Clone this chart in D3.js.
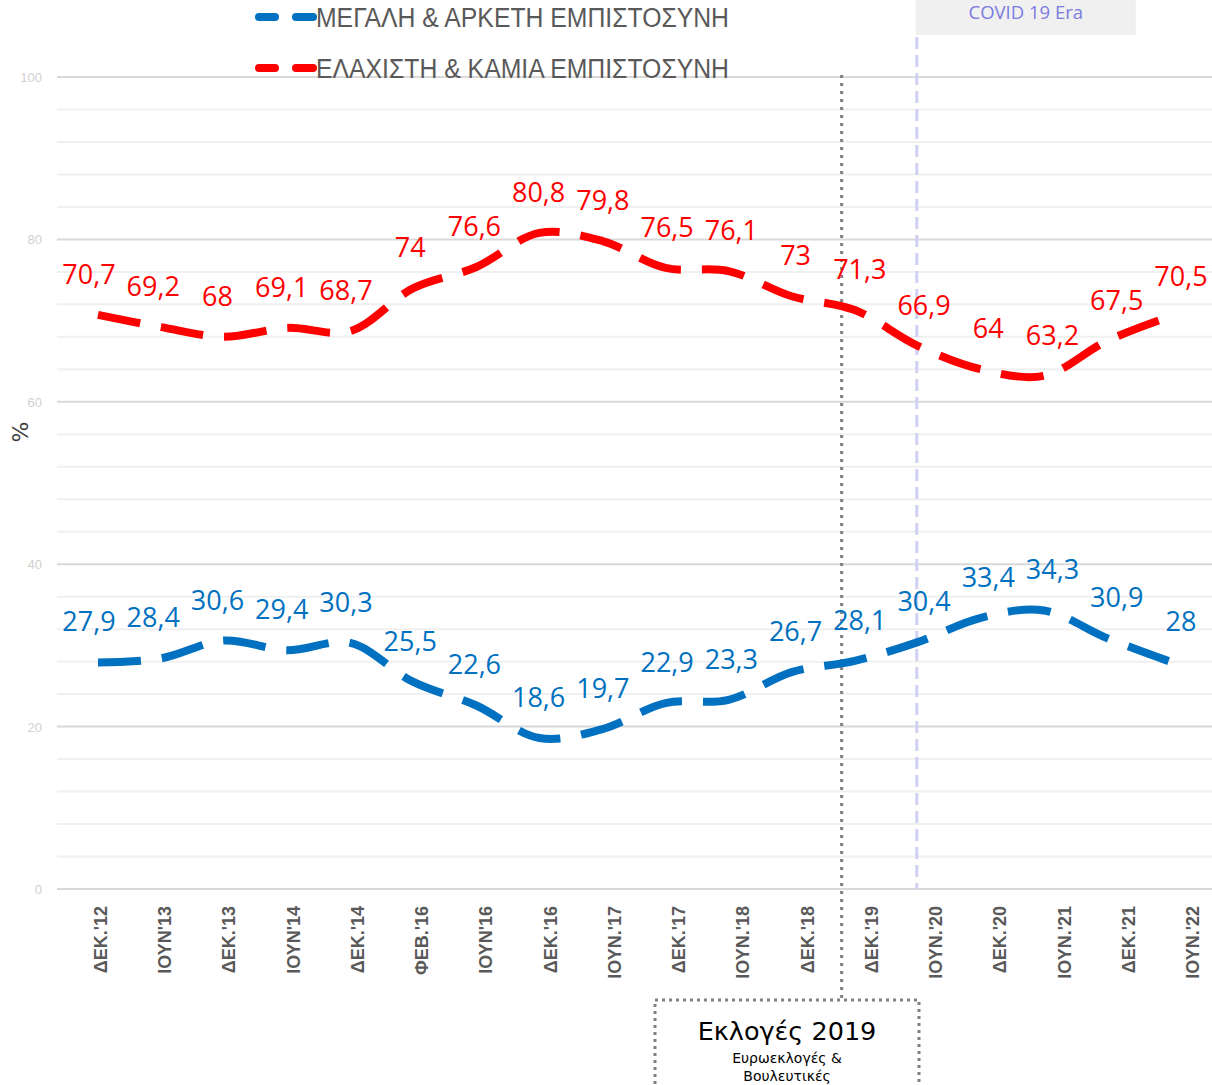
<!DOCTYPE html>
<html>
<head>
<meta charset="utf-8">
<script src="https://cdn.jsdelivr.net/npm/d3@7"></script>
<style>
  body { margin: 0; background: #fff; }
  svg { display: block; }
</style>
</head>
<body>
<div id="chart"></div>
<script>
// Categories (survey waves)
const periods = ["ΔΕΚ.'12", "ΙΟΥΝ'13", "ΔΕΚ.'13", "ΙΟΥΝ'14", "ΔΕΚ.'14", "ΦΕΒ.'16", "ΙΟΥΝ'16", "ΔΕΚ.'16",
  "ΙΟΥΝ.'17", "ΔΕΚ.'17", "ΙΟΥΝ.'18", "ΔΕΚ.'18", "ΔΕΚ.'19", "ΙΟΥΝ.'20", "ΔΕΚ.'20", "ΙΟΥΝ.'21", "ΔΕΚ.'21", "ΙΟΥΝ.'22"];

const highTrust = [27.9, 28.4, 30.6, 29.4, 30.3, 25.5, 22.6, 18.6, 19.7, 22.9, 23.3, 26.7, 28.1, 30.4, 33.4, 34.3, 30.9, 28];
const lowTrust  = [70.7, 69.2, 68, 69.1, 68.7, 74, 76.6, 80.8, 79.8, 76.5, 76.1, 73, 71.3, 66.9, 64, 63.2, 67.5, 70.5];

const yTicks = [0, 20, 40, 60, 80, 100];
const seriesNames = ["ΜΕΓΑΛΗ & ΑΡΚΕΤΗ ΕΜΠΙΣΤΟΣΥΝΗ", "ΕΛΑΧΙΣΤΗ & ΚΑΜΙΑ ΕΜΠΙΣΤΟΣΥΝΗ"];

const W = 1212, H = 1085;
const BLUE = "#0070c0", RED = "#ff0000";

const svg = d3.select("#chart").append("svg").attr("width", W).attr("height", H);

const y = d3.scaleLinear().domain([0, 100]).range([889, 77]);
const xLine = d3.scalePoint().domain(periods).range([98, 1170]);
const xLab = d3.scalePoint().domain(periods).range([89, 1181]);
const xAxis = d3.scalePoint().domain(periods).range([101, 1193]);

// Gridlines: minor every 4, major every 20
const minor = d3.range(0, 101, 4).filter(v => v % 20 !== 0);
svg.append("g").selectAll("line").data(minor).join("line")
  .attr("x1", 57).attr("x2", W).attr("y1", d => y(d)).attr("y2", d => y(d))
  .attr("stroke", "#f0f0f0").attr("stroke-width", 2);
svg.append("g").selectAll("line").data(yTicks).join("line")
  .attr("x1", 57).attr("x2", W).attr("y1", d => y(d)).attr("y2", d => y(d))
  .attr("stroke", "#d9d9d9").attr("stroke-width", 2);

// Y tick labels
svg.append("g").selectAll("text").data(yTicks).join("text")
  .attr("x", 42).attr("y", d => y(d) + 5)
  .attr("text-anchor", "end").attr("font-family", "Liberation Sans, Arial")
  .attr("font-size", 13).attr("fill", "#d0d0d0")
  .text(d => d);

// % label
svg.append("text")
  .attr("transform", "translate(28,432) rotate(-90)")
  .attr("text-anchor", "middle").attr("font-family", "DejaVu Sans")
  .attr("font-size", 22).attr("fill", "#404040").text("%");

// X axis labels (rotated)
svg.append("g").selectAll("text").data(periods).join("text")
  .attr("transform", d => `translate(${xAxis(d) + 6},906) rotate(-90)`)
  .attr("text-anchor", "end").attr("font-family", "Liberation Sans, Arial")
  .attr("font-weight", "bold").attr("font-size", 18).attr("fill", "#595959")
  .text(d => d);

// Marker positions between categories
const step = xAxis.step();
const xElection = xAxis("ΔΕΚ.'18") + 0.53 * step;
const xCovid = xAxis("ΔΕΚ.'19") + 0.7 * step;

// COVID box
svg.append("rect").attr("x", xCovid - 1).attr("y", 0).attr("width", 220).attr("height", 35).attr("fill", "#f0f0f0");
svg.append("text").attr("x", xCovid + 109).attr("y", 19)
  .attr("text-anchor", "middle").attr("font-family", "Open Sans")
  .attr("font-size", 18.5).attr("fill", "#7b7be0").text("COVID 19 Era");
svg.append("line").attr("x1", xCovid).attr("x2", xCovid).attr("y1", 37).attr("y2", 889)
  .attr("stroke", "#d0d0f5").attr("stroke-width", 3).attr("stroke-dasharray", "12,6");

// Election line and box
svg.append("line").attr("x1", xElection).attr("x2", xElection).attr("y1", 75).attr("y2", 1000)
  .attr("stroke", "#808080").attr("stroke-width", 3).attr("stroke-dasharray", "3,5");
svg.append("rect").attr("x", 655).attr("y", 1000).attr("width", 264).attr("height", 100)
  .attr("fill", "none").attr("stroke", "#808080").attr("stroke-width", 3).attr("stroke-dasharray", "3,4");
svg.append("text").attr("x", 787).attr("y", 1040).attr("text-anchor", "middle")
  .attr("font-family", "DejaVu Sans").attr("font-size", 25.5).attr("fill", "#000").text("Εκλογές 2019");
svg.append("text").attr("x", 787).attr("y", 1063).attr("text-anchor", "middle")
  .attr("font-family", "DejaVu Sans").attr("font-size", 14).attr("fill", "#000").text("Ευρωεκλογές &");
svg.append("text").attr("x", 787).attr("y", 1081).attr("text-anchor", "middle")
  .attr("font-family", "DejaVu Sans").attr("font-size", 14).attr("fill", "#000").text("Βουλευτικές");

// Series lines
const series = [
  { name: seriesNames[0], values: highTrust, color: BLUE },
  { name: seriesNames[1], values: lowTrust, color: RED },
];

const line = d3.line()
  .x((d, i) => xLine(periods[i]))
  .y(d => y(d))
  .curve(d3.curveCatmullRom.alpha(0.5));

series.forEach(s => {
  svg.append("path").datum(s.values)
    .attr("d", line).attr("fill", "none")
    .attr("stroke", s.color).attr("stroke-width", 8)
    .attr("stroke-dasharray", "43,21");

  svg.append("g").selectAll("text").data(s.values).join("text")
    .attr("x", (d, i) => xLab(periods[i]))
    .attr("y", d => y(d) - 41 + 10)
    .attr("text-anchor", "middle").attr("font-family", "Open Sans")
    .attr("font-size", 27).attr("fill", s.color)
    .text(d => String(d).replace(".", ","));
});

// Legend
const lg = svg.append("g");
series.forEach((s, i) => {
  const ly = 17 + i * 51;
  lg.append("line").attr("x1", 259).attr("x2", 275).attr("y1", ly).attr("y2", ly)
    .attr("stroke", s.color).attr("stroke-width", 8).attr("stroke-linecap", "round");
  lg.append("line").attr("x1", 296).attr("x2", 313).attr("y1", ly).attr("y2", ly)
    .attr("stroke", s.color).attr("stroke-width", 8).attr("stroke-linecap", "round");
  lg.append("text").attr("x", 316).attr("y", ly + 10)
    .attr("font-family", "Liberation Sans Narrow, Liberation Sans")
    .attr("font-size", 27).attr("fill", "#595959")
    .attr("textLength", 413).attr("lengthAdjust", "spacingAndGlyphs")
    .text(s.name);
});
</script>
</body>
</html>
